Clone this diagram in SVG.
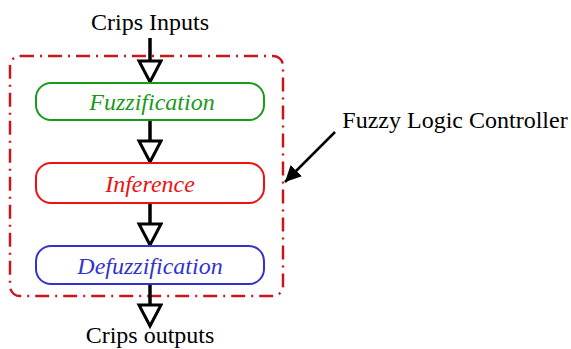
<svg xmlns="http://www.w3.org/2000/svg" width="571" height="349" viewBox="0 0 571 349">
<defs>
<marker id="hollow" markerUnits="userSpaceOnUse" markerWidth="28" markerHeight="28" refX="23" refY="13" orient="auto">
<path d="M2,2 L23,13 L2,24 Z" fill="#fff" stroke="#000" stroke-width="3" stroke-linejoin="miter"/>
</marker>
<marker id="solid" markerUnits="userSpaceOnUse" markerWidth="20" markerHeight="20" refX="16" refY="8" orient="auto">
<path d="M0,0 L16,8 L0,16 Z" fill="#000"/>
</marker>
</defs>
<style>
text{font-family:"Liberation Serif","Times New Roman",serif;font-size:24px;text-anchor:middle}
.lbl{fill:#000}
.it{font-style:italic}
.node{fill:#fff;stroke-width:2}
.conn{stroke:#000;stroke-width:3.5;fill:none;marker-end:url(#hollow)}
</style>
<rect x="10" y="56" width="273" height="240" rx="10" fill="none" stroke="#c8161d" stroke-width="2.5" stroke-dasharray="14,6,2,6"/>
<g id="connectors">
<line class="conn" x1="150" y1="38" x2="150" y2="82"/>
<line class="conn" x1="150" y1="120" x2="150" y2="162"/>
<line class="conn" x1="150" y1="203" x2="150" y2="245"/>
<line class="conn" x1="150" y1="284" x2="150" y2="326"/>
<line x1="335" y1="132" x2="285" y2="182" stroke="#000" stroke-width="2.5" marker-end="url(#solid)"/>
</g>
<g id="fuzzification">
<rect class="node" x="36" y="83" width="228" height="37" rx="15" stroke="#1a9a1a"/>
<text class="it" x="152" y="110" fill="#1a9a1a">Fuzzification</text>
</g>
<g id="inference">
<rect class="node" x="36" y="163" width="228" height="40" rx="15" stroke="#ee1111"/>
<text class="it" x="150" y="192" fill="#ee1111">Inference</text>
</g>
<g id="defuzzification">
<rect class="node" x="36" y="246" width="228" height="38" rx="15" stroke="#3333cc"/>
<text class="it" x="150" y="274" fill="#3333cc">Defuzzification</text>
</g>
<g id="inputs"><text class="lbl" x="150" y="30">Crips Inputs</text></g>
<g id="outputs"><text class="lbl" x="150" y="343">Crips outputs</text></g>
<g id="flc"><text class="lbl" x="455" y="128">Fuzzy Logic Controller</text></g>
</svg>
